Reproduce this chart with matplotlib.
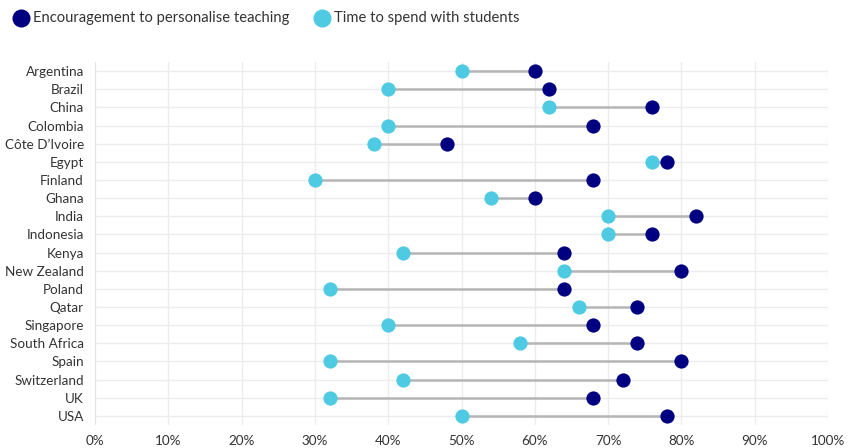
import matplotlib
matplotlib.use("Agg")
import matplotlib.pyplot as plt
from matplotlib.lines import Line2D

countries = ["Argentina", "Brazil", "China", "Colombia", "Côte D\u2019Ivoire", "Egypt",
             "Finland", "Ghana", "India", "Indonesia", "Kenya", "New Zealand", "Poland",
             "Qatar", "Singapore", "South Africa", "Spain", "Switzerland", "UK", "USA"]
personalise = [60, 62, 76, 68, 48, 78, 68, 60, 82, 76, 64, 80, 64, 74, 68, 74, 80, 72, 68, 78]
time_students = [50, 40, 62, 40, 38, 76, 30, 54, 70, 70, 42, 64, 32, 66, 40, 58, 32, 42, 32, 50]
x_ticks = [0, 10, 20, 30, 40, 50, 60, 70, 80, 90, 100]
series_names = ["Encouragement to personalise teaching", "Time to spend with students"]

NAVY = "#000080"
CYAN = "#4ecae2"
plt.rcParams["font.family"] = ["Lato", "DejaVu Sans"]

W, H = 859, 448
fig = plt.figure(figsize=(W / 100, H / 100), dpi=100)
ax = fig.add_axes([95 / W, 1 - 425 / H, (828 - 95) / W, (425 - 62) / H])

ypos = list(range(len(countries)))
for y, a, b in zip(ypos, time_students, personalise):
    ax.plot([a, b], [y, y], color="#b5b5b5", lw=1.8, zorder=2, solid_capstyle="butt")
ax.scatter(time_students, ypos, s=105, color=CYAN, zorder=3, linewidths=0)
ax.scatter(personalise, ypos, s=105, color=NAVY, zorder=4, linewidths=0)

ax.set_xlim(0, 100)
ax.set_ylim(len(countries) - 0.5, -0.5)
ax.set_xticks(x_ticks)
ax.set_xticklabels([f"{t}%" for t in x_ticks])
ax.set_yticks(ypos)
ax.set_yticklabels(countries)
ax.grid(True, color="#ececec", lw=1, zorder=0)
ax.set_axisbelow(True)
for s in ax.spines.values():
    s.set_visible(False)
ax.axvline(0, color="#e4e4e4", lw=1.3, zorder=1)
ax.tick_params(length=0, labelsize=9.7, colors="#333333")
ax.tick_params(axis="x", pad=7)
ax.tick_params(axis="y", pad=8)

# key across the top: dot followed by its label
for name, color, cx in zip(series_names, [NAVY, CYAN], [21, 322]):
    fig.add_artist(Line2D([cx / W], [1 - 18 / H], transform=fig.transFigure,
                          marker="o", ls="none", markersize=13, color=color,
                          markeredgewidth=0))
    fig.text((cx + 12) / W, 1 - 18 / H, name, ha="left", va="center",
             fontsize=10.6, color="#333333")

fig.savefig("out.png", dpi=100)
